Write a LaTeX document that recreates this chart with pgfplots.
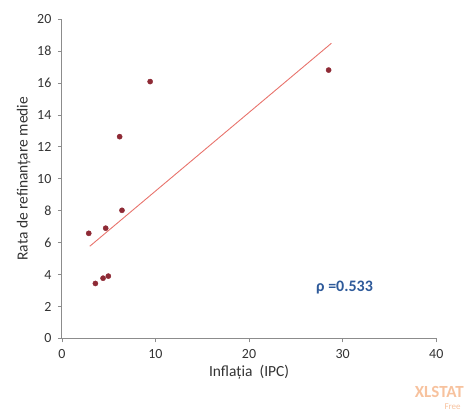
\documentclass[border=0pt]{standalone}
\usepackage{pgfplots}
\pgfplotsset{compat=1.18}
\usepackage{fontspec}
\setmainfont{Carlito}
\definecolor{ptred}{HTML}{8E2A35}
\definecolor{linered}{HTML}{E8736C}
\definecolor{rhoblue}{HTML}{2E5A9A}
\definecolor{axgray}{HTML}{8C8C8C}
\definecolor{xlorange}{HTML}{F7C29E}
\begin{document}
\begin{tikzpicture}[x=1pt,y=1pt]
\path (0,0) rectangle (467,417);
\begin{axis}[
  at={(62pt,78pt)}, anchor=south west,
  scale only axis, width=375pt, height=320pt,
  xmin=0, xmax=40, ymin=0, ymax=20,
  xtick={0,10,20,30,40}, ytick={0,2,...,20},
  axis x line*=bottom, axis y line*=left,
  axis line style={axgray, line width=0.8pt},
  tick style={axgray, line width=0.6pt},
  tick align=outside, major tick length=4pt,
  /pgf/number format/assume math mode=true,
  ticklabel style={font=\fontsize{14}{15}\selectfont, text=black!80},
  xticklabel style={yshift=-3pt},
  yticklabel style={xshift=-3pt},
  xlabel={Inflația\ \ (IPC)}, ylabel={Rata de refinanțare medie},
  label style={font=\fontsize{15.5}{16}\selectfont, text=black!80},
  xlabel style={yshift=0pt},
  ylabel style={yshift=0pt},
  clip=false,
]
\addplot[linered, line width=0.9pt] coordinates {(2.98,5.77) (28.8,18.48)};
\addplot[only marks, mark=*, mark size=2.6pt, ptred, mark options={draw=ptred, fill=ptred}] coordinates {
(2.87,6.58) (3.58,3.44) (4.40,3.77) (4.96,3.90) (4.68,6.90) (6.17,12.63) (6.42,8.02) (9.43,16.08) (28.5,16.8)};
\node[font=\bfseries\fontsize{16}{17}\selectfont, text=rhoblue] at (axis cs:30.2,3.2) {ρ =0.533};
\end{axis}
\node[font=\bfseries\fontsize{17}{18}\selectfont, text=xlorange, anchor=east] at (468,24) {XLSTAT};
\node[font=\fontsize{9}{10}\selectfont, text=xlorange, anchor=east] at (465,10) {Free};
\end{tikzpicture}
\end{document}
